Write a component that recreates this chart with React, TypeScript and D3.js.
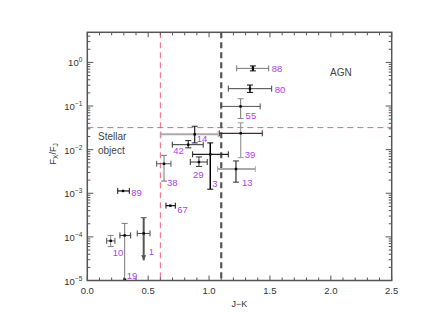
import React from "react";
import * as d3 from "d3";

// ---- data ----
const names = ["88", "80", "55", "39", "14", "42", "3", "29", "38", "13", "89", "67", "10", "19", "1"];
const jk = [1.36, 1.336, 1.259, 1.26, 0.882, 0.829, 1.01, 0.917, 0.63, 1.221, 0.293, 0.682, 0.192, 0.307, 0.463];
const jkLo = [1.227, 1.158, 1.098, 1.084, 0.605, 0.698, 0.865, 0.846, 0.57, 1.07, 0.25, 0.646, 0.159, 0.268, 0.41];
const jkHi = [1.49, 1.514, 1.42, 1.437, 1.075, 0.952, 1.158, 0.985, 0.687, 1.38, 0.345, 0.723, 0.227, 0.356, 0.515];
const ratio = [0.73, 0.25, 0.098, 0.0237, 0.0225, 0.013, 0.0078, 0.0052, 0.00475, 0.0036, 0.00113, 0.00052, 8.1e-5, 1.08e-4, 1.2e-4];
const ratioLo = [0.64, 0.205, 0.0518, 0.00655, 0.01426, 0.011, 0.00124, 0.00412, 0.0019, 0.0018, 0.00113, 0.00052, 6.0e-5, 1.0e-5, 2.9e-5];
const ratioHi = [0.83, 0.303, 0.147, 0.0412, 0.0344, 0.0161, 0.01426, 0.0068, 0.0074, 0.0055, 0.00113, 0.00052, 1.08e-4, 2.04e-4, 2.75e-4];
const upperLimit = [false, false, false, false, false, false, false, false, false, false, false, false, false, false, true];

const xTicks = [0, 0.5, 1.0, 1.5, 2.0, 2.5];
const yDecades = [0, -1, -2, -3, -4, -5];
const stellarLine = 0.6;
const agnLine = 1.1;
const ratioLine = 0.032;

// ---- styles (separate from data) ----
const xBarColor = ["#777", "#444", "#555", "#333", "#aaa", "#333", "#222", "#333", "#555", "#aaa", "#111", "#111", "#555", "#333", "#444"];
const xBarWidth = [1, 1, 1, 1.2, 2, 1, 1.2, 1, 1, 2, 1.2, 1.2, 1, 1, 1];
const yBarColor = ["#000", "#111", "#888", "#999", "#222", "#222", "#000", "#333", "#777", "#333", "#111", "#111", "#888", "#777", "#555"];
const yBarWidth = [1.8, 1.6, 1.2, 1.2, 1.2, 1, 1.5, 1, 1, 1.2, 1, 1, 1, 1, 2];
// label offsets: [anchor mode, dx, dy]  mode "r" = right of x-bar, "c" = relative to centre
const labelMode = ["r", "r", "c", "c", "c", "c", "c", "c", "c", "c", "r", "r", "c", "c", "c"];
const labelDx = [3, 3, 5, 4, 2, -15, 2, -6, 3, 6, 2, 2, 2, 2, 5];
const labelDy = [4, 4, 13, 25, 8, 9, 33, 16, 22, 17, 5, 7, 15, 44, 22];

const W = 436;
const H = 312;
const M = { left: 87.3, right: 391.7, top: 32.3, bottom: 280.5 };
const FONT = "'Liberation Sans', Arial, sans-serif";

export default function App() {
  const x = d3.scaleLinear().domain([0, 2.5]).range([M.left, M.right]);
  const y = d3.scaleLog().domain([1e-5, 4.9]).range([M.bottom, M.top]);

  const xMinor = d3.range(0, 2.5001, 0.1);
  const yMinor: number[] = [];
  for (let e = -5; e <= 0; e++) {
    for (let k = 1; k <= 9; k++) {
      const v = k * Math.pow(10, e);
      if (v >= 1e-5 && v <= 4.9) yMinor.push(v);
    }
  }

  const axisColor = "#555";
  const purple = "#b040f0";

  return (
    <svg width={W} height={H} style={{ position: "absolute", left: 0, top: 0, background: "#fff" }} fontFamily={FONT}>
      {/* reference lines */}
      <line x1={x(stellarLine)} x2={x(stellarLine)} y1={M.top} y2={M.bottom} stroke="#f06080" strokeWidth={1} strokeDasharray="6,4" />
      <line x1={M.left} x2={M.right} y1={y(ratioLine)} y2={y(ratioLine)} stroke="#f06080" strokeWidth={1} strokeDasharray="6,4" />
      <line x1={x(agnLine)} x2={x(agnLine)} y1={M.top} y2={M.bottom} stroke="#555" strokeWidth={2.2} strokeDasharray="6,4" />

      {/* error bars */}
      {names.map((n, i) => {
        const cx = x(jk[i]);
        const cy = y(ratio[i]);
        const xl = x(jkLo[i]);
        const xr = x(jkHi[i]);
        const yt = y(ratioHi[i]);
        const yb = Math.min(y(Math.max(ratioLo[i], 1e-5)), M.bottom);
        const hasY = ratioHi[i] !== ratioLo[i];
        const lx = labelMode[i] === "r" ? xr + labelDx[i] : cx + labelDx[i];
        const ly = cy + labelDy[i];
        return (
          <g key={n}>
            <line x1={xl} x2={xr} y1={cy} y2={cy} stroke={xBarColor[i]} strokeWidth={xBarWidth[i]} />
            <line x1={xl} x2={xl} y1={cy - 3} y2={cy + 3} stroke={xBarColor[i]} strokeWidth={1} />
            <line x1={xr} x2={xr} y1={cy - 3} y2={cy + 3} stroke={xBarColor[i]} strokeWidth={1} />
            {hasY && (
              <g>
                <line x1={cx} x2={cx} y1={yt} y2={yb} stroke={yBarColor[i]} strokeWidth={yBarWidth[i]} />
                <line x1={cx - 3} x2={cx + 3} y1={yt} y2={yt} stroke={yBarColor[i]} strokeWidth={1} />
                {upperLimit[i] ? (
                  <path d={`M${cx - 2.5},${yb - 5} L${cx + 2.5},${yb - 5} L${cx},${yb} Z`} fill={yBarColor[i]} />
                ) : yb < M.bottom ? (
                  <line x1={cx - 3} x2={cx + 3} y1={yb} y2={yb} stroke={yBarColor[i]} strokeWidth={1} />
                ) : (
                  <line x1={cx - 1.5} x2={cx + 1.5} y1={yb - 1} y2={yb - 1} stroke="#000" strokeWidth={2} />
                )}
              </g>
            )}
            <rect x={cx - 1.2} y={cy - 1.2} width={2.4} height={2.4} fill="#000" />
            <text x={lx} y={ly} fontSize={9.5} fill={purple}>{n}</text>
          </g>
        );
      })}

      {/* frame */}
      <rect x={M.left} y={M.top} width={M.right - M.left} height={M.bottom - M.top} fill="none" stroke={axisColor} strokeWidth={1.5} />

      {/* x ticks */}
      {xMinor.map((v, i) => {
        const major = i % 5 === 0;
        const len = major ? 5 : 3;
        return (
          <g key={"xt" + i}>
            <line x1={x(v)} x2={x(v)} y1={M.bottom} y2={M.bottom - len} stroke={axisColor} strokeWidth={1} />
            <line x1={x(v)} x2={x(v)} y1={M.top} y2={M.top + len} stroke={axisColor} strokeWidth={1} />
          </g>
        );
      })}
      {xTicks.map((v) => (
        <text key={"xl" + v} x={x(v)} y={M.bottom + 13} fontSize={9.5} fill="#333" textAnchor="middle">
          {d3.format(".1f")(v)}
        </text>
      ))}

      {/* y ticks */}
      {yMinor.map((v, i) => {
        const major = Math.abs(Math.log10(v) - Math.round(Math.log10(v))) < 1e-9;
        const len = major ? 6 : 3;
        return (
          <g key={"yt" + i}>
            <line x1={M.left} x2={M.left + len} y1={y(v)} y2={y(v)} stroke={axisColor} strokeWidth={1} />
            <line x1={M.right} x2={M.right - len} y1={y(v)} y2={y(v)} stroke={axisColor} strokeWidth={1} />
          </g>
        );
      })}
      {yDecades.map((e) => (
        <text key={"yl" + e} x={M.left - 5} y={y(Math.pow(10, e)) + 4} fontSize={9.5} fill="#333" textAnchor="end">
          10
          <tspan dy={-4} fontSize={6.5}>{e === 0 ? "0" : "−" + Math.abs(e)}</tspan>
        </text>
      ))}

      {/* axis titles */}
      <text x={x(1.25)} y={M.bottom + 26} fontSize={9} fill="#333" textAnchor="middle">J−K</text>
      <text transform={`translate(56,${y(0.008)}) rotate(-90)`} fontSize={9} fill="#333" textAnchor="middle">
        F
        <tspan dy={2} fontSize={6.5}>X</tspan>
        <tspan dy={-2}>/F</tspan>
        <tspan dy={2} fontSize={6.5}>J</tspan>
      </text>

      {/* region labels */}
      <text x={98} y={140} fontSize={10} fill="#444">Stellar</text>
      <text x={98} y={154} fontSize={10} fill="#444">object</text>
      <text x={330} y={76} fontSize={10} fill="#444">AGN</text>
    </svg>
  );
}
